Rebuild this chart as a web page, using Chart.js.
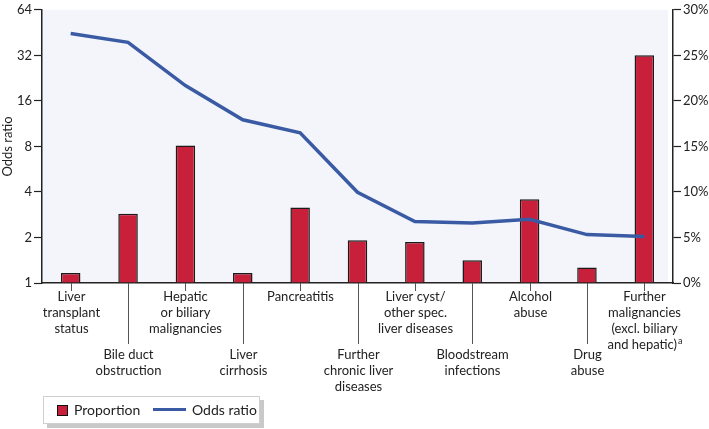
<!DOCTYPE html>
<html lang="en">
<head>
    <meta charset="UTF-8">
    <script src="https://cdn.jsdelivr.net/npm/chart.js"></script>
    <title>Proportion and odds ratio</title>
    <style>
        body { margin: 0; background: #fff; font-family: Lato, sans-serif; }
        .wrap { position: relative; width: 709px; height: 429px; }
        .legenda {
            position: absolute; left: 43px; top: 396px; width: 215px; height: 26px;
            border: 1px solid #cfcfcf; background: #fff; box-shadow: 4px 4px 0 #c9c9c9;
            font-size: 14px; color: #222;
        }
        .legenda .caixa { position: absolute; left: 13px; top: 8px; width: 9px; height: 9px; background: #c81f3a; border: 1px solid #111; }
        .legenda .linha { position: absolute; left: 109px; top: 11px; width: 33px; height: 3px; background: #3a5ba4; }
        .legenda span { position: absolute; top: 4px; }
    </style>
</head>
<body>
<div class="wrap">
    <canvas id="grafico"></canvas>
    <div class="legenda">
        <div class="caixa"></div><span style="left: 30px;">Proportion</span>
        <div class="linha"></div><span style="left: 148px;">Odds ratio</span>
    </div>
</div>

<script>
    var categorias = [
        ['Liver', 'transplant', 'status'],
        ['Bile duct', 'obstruction'],
        ['Hepatic', 'or biliary', 'malignancies'],
        ['Liver', 'cirrhosis'],
        ['Pancreatitis'],
        ['Further', 'chronic liver', 'diseases'],
        ['Liver cyst/', 'other spec.', 'liver diseases'],
        ['Bloodstream', 'infections'],
        ['Alcohol', 'abuse'],
        ['Drug', 'abuse'],
        ['Further', 'malignancies', '(excl. biliary', 'and hepatic)']
    ];
    var notas = ['', '', '', '', '', '', '', '', '', '', 'a'];

    var proporcao = [1.1, 7.6, 15.1, 1.1, 8.3, 4.7, 4.5, 2.5, 9.2, 1.7, 25.0];
    var oddsRatio = [44.6, 39.0, 20.2, 12.0, 9.85, 3.98, 2.55, 2.49, 2.64, 2.09, 2.03];

    var ticksOdds = [1, 2, 4, 8, 16, 32, 64];
    var ticksPct = [0, 5, 10, 15, 20, 25, 30];

    var corTexto = '#222222';
    var fonte = { family: 'Lato', size: 13 };

    // fundo da area e rotulos alternados do eixo x
    var rotulosX = {
        id: 'rotulosX',
        beforeDraw: function (chart) {
            var a = chart.chartArea;
            var ctx = chart.ctx;
            ctx.save();
            ctx.fillStyle = '#f3f5fa';
            ctx.fillRect(a.left, a.top, a.right - a.left - 5, a.bottom - a.top);
            ctx.restore();
        },
        afterDraw: function (chart) {
            var x = chart.scales.x;
            var ctx = chart.ctx;
            var base = x.top;
            ctx.save();
            ctx.font = '13px Lato';
            ctx.fillStyle = corTexto;
            ctx.textBaseline = 'middle';
            categorias.forEach(function (linhas, i) {
                var px = Math.round(x.getPixelForValue(i)) + 0.5;
                var baixo = i % 2 === 1;
                ctx.strokeStyle = '#555';
                ctx.lineWidth = 1;
                ctx.beginPath();
                ctx.moveTo(px, base);
                ctx.lineTo(px, base + (baixo ? 61 : 8));
                ctx.stroke();
                var y0 = base + (baixo ? 72 : 14);
                linhas.forEach(function (t, j) {
                    var y = y0 + j * 16;
                    if (j === linhas.length - 1 && notas[i]) {
                        ctx.font = '13px Lato';
                        var w1 = ctx.measureText(t).width;
                        ctx.font = '9px Lato';
                        var w2 = ctx.measureText(notas[i]).width;
                        var inicio = px - (w1 + w2) / 2;
                        ctx.textAlign = 'left';
                        ctx.font = '13px Lato';
                        ctx.fillText(t, inicio, y);
                        ctx.font = '9px Lato';
                        ctx.fillText(notas[i], inicio + w1 + 1, y - 4);
                        ctx.font = '13px Lato';
                    } else {
                        ctx.textAlign = 'center';
                        ctx.fillText(t, px, y);
                    }
                });
            });
            ctx.restore();
        }
    };

    var ctx = document.getElementById('grafico').getContext('2d');

    new Chart(ctx, {
        data: {
            labels: categorias.map(function (c) { return c.join(' '); }),
            datasets: [
                {
                    type: 'line',
                    label: 'Odds ratio',
                    data: oddsRatio,
                    yAxisID: 'yOdds',
                    borderColor: '#3a5ba4',
                    borderWidth: 3.5,
                    pointRadius: 0,
                    tension: 0,
                    order: 0
                },
                {
                    type: 'bar',
                    label: 'Proportion',
                    data: proporcao,
                    yAxisID: 'yPct',
                    backgroundColor: '#c81f3a',
                    borderColor: '#1a1a1a',
                    borderWidth: 1.5,
                    barPercentage: 0.34,
                    categoryPercentage: 1,
                    order: 1
                }
            ]
        },
        options: {
            responsive: true,
            maintainAspectRatio: false,
            animation: false,
            layout: { padding: { top: 6, left: 0, right: 0, bottom: 0 } },
            plugins: {
                legend: { display: false },
                tooltip: { enabled: false }
            },
            scales: {
                x: {
                    type: 'category',
                    offset: true,
                    ticks: { display: false },
                    grid: { drawOnChartArea: false, drawTicks: false },
                    border: { color: '#222', width: 1.5 },
                    afterFit: function (scale) { scale.height = 146; }
                },
                yOdds: {
                    type: 'logarithmic',
                    position: 'left',
                    min: 1,
                    max: 64,
                    afterBuildTicks: function (scale) {
                        scale.ticks = ticksOdds.map(function (v) { return { value: v }; });
                    },
                    ticks: {
                        color: corTexto,
                        font: fonte,
                        padding: 2,
                        callback: function (v) { return v; }
                    },
                    grid: { drawOnChartArea: false, tickLength: 8, tickColor: '#222', tickWidth: 1.2 },
                    border: { color: '#222', width: 1.5 },
                    title: { display: true, text: 'Odds ratio', color: corTexto, font: fonte, padding: 0 },
                    afterFit: function (scale) { scale.width = 42; }
                },
                yPct: {
                    type: 'linear',
                    position: 'right',
                    min: 0,
                    max: 30,
                    afterBuildTicks: function (scale) {
                        scale.ticks = ticksPct.map(function (v) { return { value: v }; });
                    },
                    ticks: {
                        color: corTexto,
                        font: fonte,
                        padding: 2,
                        callback: function (v) { return v + '%'; }
                    },
                    grid: { drawOnChartArea: false, tickLength: 8, tickColor: '#222', tickWidth: 1.2 },
                    border: { color: '#222', width: 1.5 },
                    afterFit: function (scale) { scale.width = 36; }
                }
            }
        },
        plugins: [rotulosX]
    });
</script>
</body>
</html>
